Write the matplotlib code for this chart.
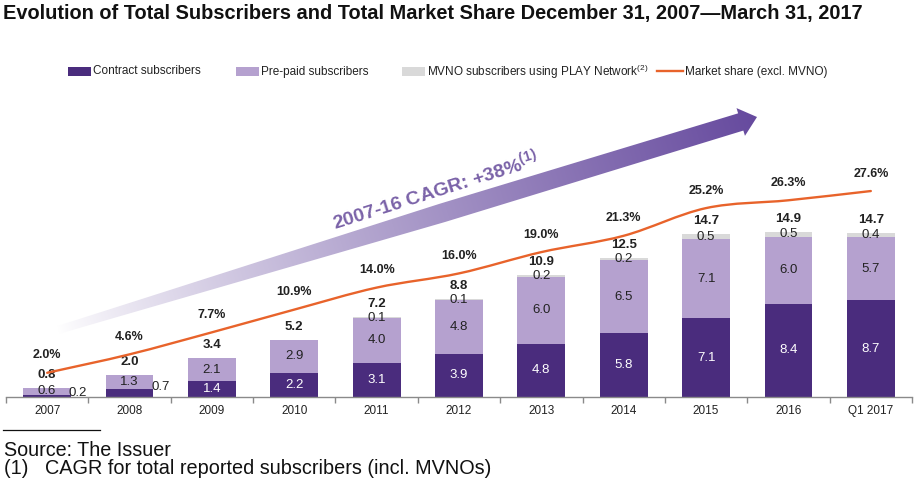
import numpy as np
import matplotlib
matplotlib.use('Agg')
import matplotlib.pyplot as plt
from matplotlib.patches import Polygon, Rectangle, PathPatch
from matplotlib.path import Path

plt.rcParams['font.family'] = ['Liberation Sans', 'DejaVu Sans']
plt.rcParams['mathtext.fontset'] = 'custom'
plt.rcParams['mathtext.rm'] = 'Liberation Sans'
plt.rcParams['mathtext.bf'] = 'Liberation Sans:bold'
plt.rcParams['mathtext.it'] = 'Liberation Sans:italic'

# ---- data ----
categories = ['2007', '2008', '2009', '2010', '2011', '2012', '2013', '2014',
              '2015', '2016', 'Q1 2017']
contract = [0.2, 0.7, 1.4, 2.2, 3.1, 3.9, 4.8, 5.8, 7.1, 8.4, 8.7]
prepaid = [0.6, 1.3, 2.1, 2.9, 4.0, 4.8, 6.0, 6.5, 7.1, 6.0, 5.7]
mvno = [0.0, 0.0, 0.0, 0.0, 0.1, 0.1, 0.2, 0.2, 0.5, 0.5, 0.4]
totals = [0.8, 2.0, 3.4, 5.2, 7.2, 8.8, 10.9, 12.5, 14.7, 14.9, 14.7]
share = [2.0, 4.6, 7.7, 10.9, 14.0, 16.0, 19.0, 21.3, 25.2, 26.3, 27.6]

C_CONTRACT = '#4A2C7D'
C_PREPAID = '#B5A1CF'
C_MVNO = '#D9D9D9'
C_LINE = '#E8632B'
C_TEXT = '#222222'

W, H = 918, 487
fig = plt.figure(figsize=(W / 100, H / 100), dpi=100)

# overlay axes in pixel coordinates (y downward) for decorations
over = fig.add_axes([0, 0, 1, 1], zorder=0)
over.set_xlim(0, W)
over.set_ylim(H, 0)
over.axis('off')

# main axes
ax_bottom_px, ax_top_px = 397, 100
ax = fig.add_axes([6 / W, 1 - ax_bottom_px / H, 906 / W, (ax_bottom_px - ax_top_px) / H],
                  zorder=1)
ax.patch.set_alpha(0)
ax2 = ax.twinx()
ax2.set_zorder(2)
ax2.patch.set_visible(False)

x = np.arange(len(categories))
w = 0.58
contract_a = np.array(contract)
prepaid_a = np.array(prepaid)
mvno_a = np.array(mvno)
b2 = contract_a + prepaid_a

ax.bar(x, contract_a, w, color=C_CONTRACT, linewidth=0)
ax.bar(x, prepaid_a, w, bottom=contract_a, color=C_PREPAID, linewidth=0)
ax.bar(x, mvno_a, w, bottom=b2, color=C_MVNO, linewidth=0)

height_px = ax_bottom_px - ax_top_px
ax.set_ylim(0, height_px / 11.1)
zero_off = 10 / 7.1
ax2.set_ylim(-zero_off, -zero_off + height_px / 7.1)
ax.set_xlim(-0.5, len(categories) - 0.5)

fs = 9.5
for i in range(len(categories)):
    c, p, m = contract[i], prepaid[i], mvno[i]
    if c >= 1.0:
        ax.text(x[i], c / 2, f'{c:.1f}', ha='center', va='center', color='white', fontsize=fs)
    else:
        ax.annotate(f'{c:.1f}', (x[i] + w / 2, c), xytext=(-1.5, 1.5), textcoords='offset points',
                    ha='left', va='center', color=C_TEXT, fontsize=fs)
    ax.text(x[i], c + p / 2, f'{p:.1f}', ha='center', va='center', color=C_TEXT, fontsize=fs)
    if m > 0:
        ax.text(x[i], c + p + m / 2, f'{m:.1f}', ha='center', va='center', color=C_TEXT, fontsize=fs)
    ax.annotate(f'{totals[i]:.1f}', (x[i], c + p + m), xytext=(0, 5), textcoords='offset points',
                ha='center', va='bottom', color=C_TEXT, fontsize=fs, fontweight='bold')

# smooth market share line (Catmull-Rom through data points)
pts = np.column_stack([x, share]).astype(float)
ext = np.vstack([2 * pts[0] - pts[1], pts, 2 * pts[-1] - pts[-2]])
verts = [pts[0]]
codes = [Path.MOVETO]
for i in range(len(pts) - 1):
    p0, p1, p2, p3 = ext[i], ext[i + 1], ext[i + 2], ext[i + 3]
    verts += [p1 + (p2 - p0) / 6, p2 - (p3 - p1) / 6, p2]
    codes += [Path.CURVE4] * 3
ax2.add_patch(PathPatch(Path(verts, codes), fill=False, edgecolor=C_LINE, lw=1.7,
                        capstyle='round', joinstyle='round'))
for i, s in enumerate(share):
    ax2.annotate(f'{s:.1f}%', (x[i], s), xytext=(0, 12.5), textcoords='offset points',
                 ha='center', va='center', color=C_TEXT, fontsize=9, fontweight='bold')

# axes styling
for a in (ax, ax2):
    for sp in ('top', 'left', 'right'):
        a.spines[sp].set_visible(False)
    a.set_yticks([])
ax2.spines['bottom'].set_visible(False)
ax.spines['bottom'].set_color('#8a8a8a')
ax.spines['bottom'].set_linewidth(1.0)
ax.set_xticks(x)
ax.set_xticklabels(categories, fontsize=8.5, color=C_TEXT)
ax.tick_params(axis='x', which='major', length=0, pad=6)
ax.set_xticks(np.arange(-0.5, len(categories), 1.0), minor=True)
ax.tick_params(axis='x', which='minor', length=4, width=1.0, color='#8a8a8a', direction='out')

# ---- gradient CAGR arrow ----
tail = np.array([58.0, 330.0])
tip = np.array([757.0, 117.0])
d = tip - tail
L = np.hypot(*d)
u = d / L
n = np.array([u[1], -u[0]])
head_len = 17
B = tip - u * head_len
M = tail + d * 0.55
poly = [tail + n * 4.0, M + n * 9.5, B + n * 9.0, B + n * 14.5, tip,
        B - n * 14.5, B - n * 9.0, M - n * 9.5, tail - n * 4.0]
clip = Polygon(poly, closed=True, facecolor='none', edgecolor='none')
over.add_patch(clip)
x0, x1, y0, y1 = 40, 775, 95, 345
xs = np.linspace(x0, x1, 600)
ys = np.linspace(y0, y1, 220)
X, Y = np.meshgrid(xs, ys)
t = np.clip(((X - tail[0]) * u[0] + (Y - tail[1]) * u[1]) / L, 0, 1)
a = t ** 0.85
c_end = np.array([0x66, 0x4A, 0x9E]) / 255.0
img = (1 - a)[..., None] * np.array([1, 1, 1]) + a[..., None] * c_end
im = over.imshow(img, extent=(x0, x1, y1, y0), origin='upper', aspect='auto',
                 interpolation='bilinear', zorder=1)
im.set_clip_path(clip)
over.set_xlim(0, W)
over.set_ylim(H, 0)

over.text(335, 229, '2007-16 CAGR: +38%$^{\\mathbf{(1)}}$', rotation=17.5,
          rotation_mode='anchor', ha='left', va='baseline', color='#7A62A8',
          fontsize=14, fontweight='bold', zorder=3)

# ---- legend ----
leg_y = 71.5
over.add_patch(Rectangle((68, leg_y - 4.5), 23, 9, color=C_CONTRACT, lw=0))
over.text(93, leg_y, 'Contract subscribers', va='center', ha='left', fontsize=8.5, color=C_TEXT)
over.add_patch(Rectangle((236, leg_y - 4.5), 23, 9, color=C_PREPAID, lw=0))
over.text(261, leg_y, 'Pre-paid subscribers', va='center', ha='left', fontsize=8.5, color=C_TEXT)
over.add_patch(Rectangle((402, leg_y - 4.5), 23, 9, color=C_MVNO, lw=0))
over.text(427, leg_y, 'MVNO subscribers using PLAY Network$^{(2)}$', va='center', ha='left',
          fontsize=8.5, color=C_TEXT)
over.plot([657, 683], [leg_y - 1, leg_y - 1], color=C_LINE, lw=1.7)
over.text(685, leg_y, 'Market share (excl. MVNO)', va='center', ha='left', fontsize=8.5, color=C_TEXT)

# ---- title ----
title = over.text(3, 13, 'Evolution of Total Subscribers and Total Market Share December 31, 2007\u2014March 31, 2017',
                  ha='left', va='center', fontsize=13, fontweight='bold',
                  family=['Liberation Sans Narrow', 'Liberation Sans'], color='#111111')
renderer = fig.canvas.get_renderer()
tw = title.get_window_extent(renderer).width
title.set_fontsize(13 * 859 / tw)

# ---- footer ----
over.plot([3, 100], [430, 430], color='#111111', lw=0.9)
src = over.text(4, 450, 'Source: The Issuer', ha='left', va='center', fontsize=14, color='#111111')
sw = src.get_window_extent(renderer).width
src.set_fontsize(14 * 168 / sw)
foot = over.text(4, 469, '(1)   CAGR for total reported subscribers (incl. MVNOs)', ha='left', va='center',
                 fontsize=13.5, color='#111111')
fw = foot.get_window_extent(renderer).width
foot.set_fontsize(13.5 * 486 / fw)

fig.savefig('out.png', dpi=100)
